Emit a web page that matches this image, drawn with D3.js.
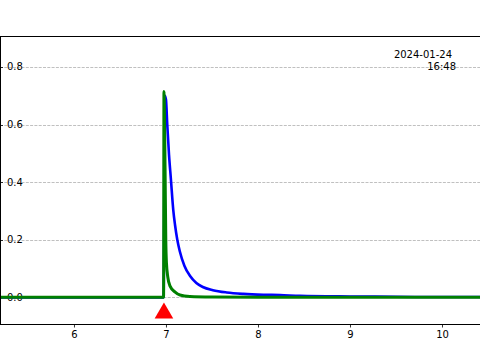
<!DOCTYPE html>
<html><head><meta charset="utf-8">
<script src="https://cdn.jsdelivr.net/npm/d3@7"></script>
<style>html,body{margin:0;padding:0;background:#fff;}svg{display:block;font-family:"DejaVu Sans",sans-serif;}</style>
</head><body>
<script>
// Data
const blueX = [5.19, 5.6, 6.0, 6.5, 6.9, 6.974, 6.988, 7.0, 7.014, 7.033, 7.054, 7.079, 7.098, 7.123, 7.15, 7.2, 7.26, 7.33, 7.4, 7.51, 7.66, 7.84, 8.058, 8.24, 8.457, 9.0, 9.5, 10.0, 10.42];
const blueY = [0, 0, 0, 0, 0, 0, 0.70, 0.686, 0.599, 0.495, 0.408, 0.304, 0.252, 0.200, 0.160, 0.110, 0.075, 0.050, 0.036, 0.025, 0.017, 0.012, 0.009, 0.008, 0.005, 0.003, 0.002, 0.001, 0.001];
const greenX = [5.19, 5.6, 6.0, 6.5, 6.9, 6.974, 6.978, 6.99, 6.998, 7.005, 7.02, 7.043, 7.1, 7.152, 7.26, 7.5, 8.0, 9.0, 10.0, 10.42];
const greenY = [0, 0, 0, 0, 0, 0, 0.715, 0.45, 0.20, 0.12, 0.07, 0.040, 0.018, 0.008, 0.003, 0.001, 0, 0, 0, 0];
const markerX = [6.978];
const markerY = [-0.055];
const yTicks = [0.0, 0.2, 0.4, 0.6, 0.8];
const xTicks = [6, 7, 8, 9, 10];
const stampLines = ["2024-01-24", "16:48"];

const W = 480, H = 360;
const svg = d3.select("body").append("svg").attr("width", W).attr("height", H);
const L = 0, R = 480, T = 36, B = 324;
const x = d3.scaleLinear().domain([5.196, 10.413]).range([L, R]);
const y = d3.scaleLinear().domain([-0.0925, 0.9075]).range([B, T]);

// grid
svg.append("g").selectAll("line").data(yTicks).join("line")
  .attr("x1", L).attr("x2", R).attr("y1", d => Math.round(y(d)) + 0.5).attr("y2", d => Math.round(y(d)) + 0.5)
  .attr("stroke", "#b0b0b0").attr("stroke-width", 0.8).attr("stroke-dasharray", "3,1.3");

// y tick labels (inside)
const yg = svg.append("g");
yg.selectAll("line").data(yTicks).join("line")
  .attr("x1", L).attr("x2", L + 3).attr("y1", d => Math.round(y(d)) + 0.5).attr("y2", d => Math.round(y(d)) + 0.5)
  .attr("stroke", "#000").attr("stroke-width", 0.8);
yg.selectAll("text").data(yTicks).join("text")
  .attr("x", 7).attr("y", d => y(d)).attr("dy", "0.35em")
  .attr("font-size", 10).attr("fill", "#000").text(d => d.toFixed(1));

// lines
svg.append("clipPath").attr("id", "c").append("rect").attr("x", L).attr("y", T).attr("width", R - L).attr("height", B - T);
const line = d3.line().x(d => x(d[0])).y(d => y(d[1])).curve(d3.curveMonotoneX);
const g = svg.append("g").attr("clip-path", "url(#c)");
g.append("path").datum(d3.zip(blueX, blueY)).attr("d", line)
  .attr("fill", "none").attr("stroke", "#0000ff").attr("stroke-width", 2.6).attr("stroke-linejoin", "round");
g.append("path").datum(d3.zip(greenX, greenY)).attr("d", line)
  .attr("fill", "none").attr("stroke", "#008000").attr("stroke-width", 3).attr("stroke-linejoin", "round");

// marker
svg.append("g").selectAll("path").data(d3.zip(markerX, markerY)).join("path")
  .attr("transform", d => `translate(${x(d[0])},${y(d[1])})`)
  .attr("d", d3.symbol().type(d3.symbolTriangle).size(150))
  .attr("fill", "#ff0000");

// x axis
const xa = svg.append("g").attr("transform", `translate(0,${B})`)
  .call(d3.axisBottom(x).tickValues(xTicks).tickSize(3.5).tickPadding(3.5).tickFormat(d3.format("d")));
xa.select(".domain").remove();
xa.selectAll("text").attr("font-size", 10).attr("font-family", "DejaVu Sans").attr("fill", "#000");
xa.selectAll("line").attr("stroke-width", 0.8);

// spines
svg.append("line").attr("x1", L).attr("x2", R).attr("y1", T + 0.5).attr("y2", T + 0.5).attr("stroke", "#000").attr("stroke-width", 1);
svg.append("line").attr("x1", L).attr("x2", R).attr("y1", B + 0.5).attr("y2", B + 0.5).attr("stroke", "#000").attr("stroke-width", 1);
svg.append("line").attr("x1", L + 0.5).attr("x2", L + 0.5).attr("y1", T).attr("y2", B).attr("stroke", "#000").attr("stroke-width", 1);

// timestamp
const stampX = [452, 456];
svg.append("g").selectAll("text").data(stampLines).join("text")
  .attr("font-size", 10).attr("fill", "#000").attr("text-anchor", "end")
  .attr("x", (d, i) => stampX[i]).attr("y", (d, i) => 58 + i * 12).text(d => d);
</script>
</body></html>
